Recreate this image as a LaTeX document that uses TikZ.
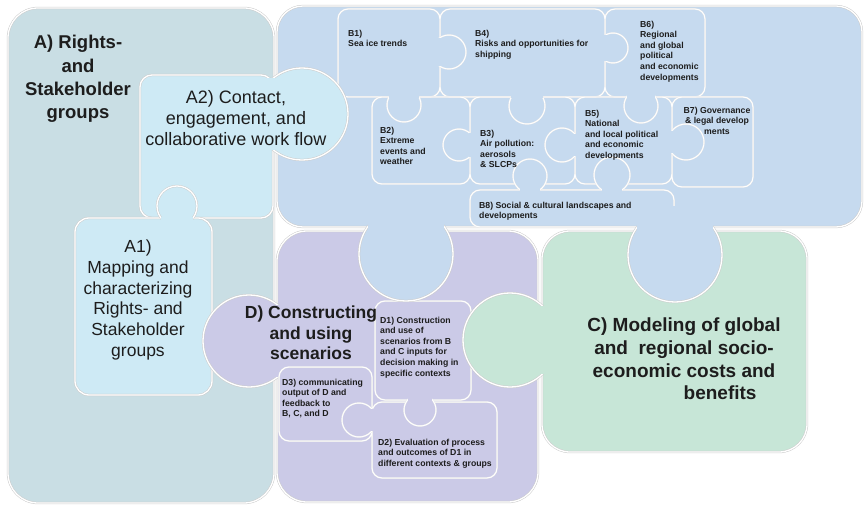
\documentclass[tikz,border=0pt]{standalone}
\usepackage{fontspec}
\setmainfont{Liberation Sans}
\usepackage{tikz}
\tikzset{>=latex}
\usetikzlibrary{positioning,calc}

\definecolor{groupA}{HTML}{C9DEE4}
\definecolor{subA}{HTML}{CEEAF5}
\definecolor{groupB}{HTML}{C6DAEF}
\definecolor{groupC}{HTML}{C7E6D7}
\definecolor{groupD}{HTML}{CBCAE7}
\definecolor{ink}{HTML}{1D1D1D}

% knob on a horizontal edge: style, fill, centre x, centre y, radius, edge y
\newcommand\hknob[6]{%
  \pgfmathsetmacro\kw{sqrt(#5*#5-(#4-#6)*(#4-#6))}%
  \pgfmathsetmacro\ks{sign(#4-#6)}%
  \draw[#1,fill=#2] (#3,#4) circle[radius=#5pt];
  \fill[#2] ({#3-\kw},{#6+1.5*\ks}) rectangle ({#3+\kw},{#4-(#5+2)*\ks});}
% knob on a vertical edge: style, fill, centre x, centre y, radius, edge x
\newcommand\vknob[6]{%
  \pgfmathsetmacro\kw{sqrt(#5*#5-(#3-#6)*(#3-#6))}%
  \pgfmathsetmacro\ks{sign(#3-#6)}%
  \draw[#1,fill=#2] (#3,#4) circle[radius=#5pt];
  \fill[#2] ({#6+1.5*\ks},{#4-\kw}) rectangle ({#3-(#5+2)*\ks},{#4+\kw});}

\begin{document}
\begin{tikzpicture}[x=1pt,y=-1pt,
                    piece/.style={draw=black!20,double=white,double distance=1.3pt,line width=0.5pt},
                    part/.style={draw=black!9,double=white,double distance=0.9pt,line width=0.3pt},
                    title/.style={align=center,inner sep=0pt,text=ink},
                    lbl/.style={anchor=north west,align=left,inner sep=0pt,text=ink,
                                font=\fontsize{8.7}{10.6}\selectfont\bfseries}
        ]
\useasboundingbox (0,0) rectangle (868,508);

% A) rights- and stakeholder groups
\draw[piece,fill=groupA,rounded corners=30pt] (8,8) rectangle (274,503);

% B) drivers, with its eight small pieces
\draw[piece,fill=groupB,rounded corners=26pt] (277,6) rectangle (862,227);
\draw[part,rounded corners=10pt] (338,9) rectangle (440,97) (440,9) rectangle (605,97)
    (605,9) rectangle (705,97);
\draw[part,rounded corners=10pt] (372,97) rectangle (470,184) (470,97) rectangle (575,184)
    (575,97) rectangle (672,184) (672,97) rectangle (753,187);
\draw[part,rounded corners=10pt] (470,190) rectangle (674,227);
\vknob{part}{groupB}{449}{52}{17}{440}
\vknob{part}{groupB}{613}{48}{15}{605}
\hknob{part}{groupB}{404}{105}{17}{97}
\hknob{part}{groupB}{527}{106}{18}{97}
\hknob{part}{groupB}{641}{106}{17}{97}
\vknob{part}{groupB}{459}{145}{16}{470}
\vknob{part}{groupB}{562}{145}{17}{575}
\vknob{part}{groupB}{686}{142}{18}{672}
\hknob{part}{groupB}{530}{176}{17}{190}
\hknob{part}{groupB}{612}{175}{18}{190}

% A2 and A1
\draw[piece,fill=subA,rounded corners=12pt] (140,75) rectangle (273,218);
\vknob{piece}{subA}{302}{114}{46}{273}
\draw[piece,fill=subA,rounded corners=14pt] (75,218) rectangle (212,395);
\hknob{piece}{subA}{177}{206}{20}{218}

% D) scenarios
\draw[piece,fill=groupD,rounded corners=30pt] (277,231) rectangle (538,502);
\vknob{piece}{groupD}{249}{341}{46}{277}
\draw[part,rounded corners=10pt] (375,301) rectangle (471,400) (372,402) rectangle (497,478)
    (279,367) rectangle (372,441);
\hknob{part}{groupD}{420}{410}{16}{400}
\vknob{part}{groupD}{359}{420}{17}{372}

% C) modeling
\draw[piece,fill=groupC,rounded corners=28pt] (542,231) rectangle (807,452);
\vknob{piece}{groupC}{510}{340}{47}{542}

% B reaching into D and C
\hknob{piece}{groupB}{406}{254}{47}{227}
\hknob{piece}{groupB}{675}{255}{47}{227}

% texts
\node[title,font=\fontsize{18.5}{23.3}\selectfont\bfseries] (atitle) at (78,79) {A) Rights-\\and\\Stakeholder\\groups};
\node[title,font=\fontsize{18}{21}\selectfont] (a2) at (236,118) {A2) Contact,\\engagement, and\\collaborative work flow};
\node[title,font=\fontsize{17.5}{20.7}\selectfont] (a1) at (138,300) {A1)\\Mapping and\\characterizing\\Rights- and\\Stakeholder\\groups};
\node[title,font=\fontsize{19}{22.7}\selectfont\bfseries] (ctitle) at (684,359) {C) Modeling of global\\and\ \ regional socio-\\economic costs and\\\hspace*{3.8em}benefits};
\node[title,font=\fontsize{17.5}{20.5}\selectfont\bfseries] (dtitle) at (311,333) {D) Constructing\\and using\\scenarios};

\node[lbl] (b1) at (348,29.5) {B1)\\Sea ice trends};
\node[lbl] (b4) at (475,29.5) {B4)\\Risks and opportunities for\\shipping};
\node[lbl] (b6) at (640,20.5) {B6)\\Regional\\and global\\political\\and economic\\developments};
\node[lbl] (b2) at (380,126.5) {B2)\\Extreme\\events and\\weather};
\node[lbl] (b3) at (480,129.5) {B3)\\Air pollution:\\aerosols\\\& SLCPs};
\node[lbl] (b5) at (585,109.5) {B5)\\National\\and local political\\and economic\\developments};
\node[lbl,anchor=north,align=center] (b7) at (717,106.5) {B7) Governance\\\& legal develop\\ments};
\node[lbl] (b8) at (479,201.5) {B8) Social \& cultural landscapes and\\developments};
\node[lbl] (d1) at (380,316.5) {D1) Construction\\and use of\\scenarios from B\\and C inputs for\\decision making in\\specific contexts};
\node[lbl] (d3) at (282,378.5) {D3) communicating\\output of D and\\feedback to\\B, C, and D};
\node[lbl] (d2) at (378,438.5) {D2) Evaluation of process\\and outcomes of D1 in\\different contexts \& groups};
\end{tikzpicture}
\end{document}
